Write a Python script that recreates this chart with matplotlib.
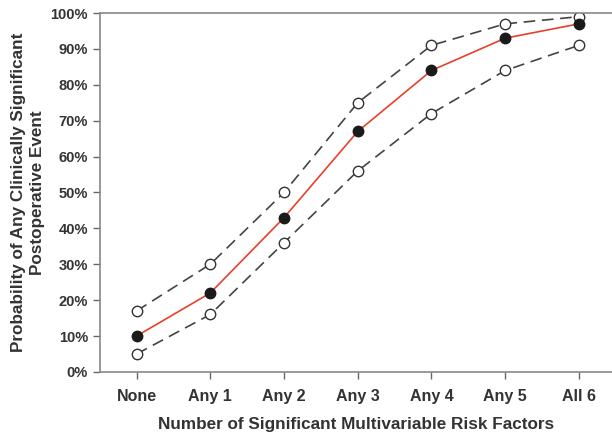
import numpy as np
import matplotlib.pyplot as plt

## Chart data
categories = ['None', 'Any 1', 'Any 2', 'Any 3', 'Any 4', 'Any 5', 'All 6']
estimate = [10, 22, 43, 67, 84, 93, 97]
upper_ci = [17, 30, 50, 75, 91, 97, 99]
lower_ci = [5, 16, 36, 56, 72, 84, 91]
y_ticks = [0, 10, 20, 30, 40, 50, 60, 70, 80, 90, 100]

plt.rcParams['font.family'] = ['Liberation Sans', 'DejaVu Sans']

fig = plt.figure(figsize=(6.12, 4.36), dpi=100)
ax = fig.add_axes([0.163, 0.147, 0.837, 0.823])

x = np.arange(len(categories))
text_col = '#333333'

## Confidence bounds (dashed, open circles)
for ci in (upper_ci, lower_ci):
    ax.plot(x, ci, color='#444444', linestyle=(0, (7, 4)), linewidth=1.2,
            marker='o', markersize=7.5, markerfacecolor='white',
            markeredgecolor='#333333', markeredgewidth=1.0, zorder=2)

## Point estimate (red line, filled markers)
ax.plot(x, estimate, color='#e8402a', linewidth=1.2, marker='o', markersize=7.5,
        markerfacecolor='#1a1a1a', markeredgecolor='#1a1a1a', zorder=3)

ax.set_xlim(-0.5, 6.45)
ax.set_ylim(0, 100)
ax.set_xticks(x)
ax.set_xticklabels(categories, fontsize=11.5, fontweight='bold', color=text_col)
ax.set_yticks(y_ticks)
ax.set_yticklabels([f'{v}%' for v in y_ticks], fontsize=10.5, fontweight='bold', color=text_col)
ax.tick_params(axis='both', direction='out', length=5, width=1, color='#666666')
ax.tick_params(axis='x', pad=7)

for side in ('left', 'bottom', 'top'):
    ax.spines[side].set_color('#888888')
    ax.spines[side].set_linewidth(1.2)
ax.spines['right'].set_visible(False)

ax.set_xlabel('Number of Significant Multivariable Risk Factors', fontsize=12.3,
              fontweight='bold', color=text_col, labelpad=10)
ax.set_ylabel('Probability of Any Clinically Significant\nPostoperative Event', fontsize=12.3,
              fontweight='bold', color=text_col, labelpad=4, linespacing=1.35)

plt.savefig('out.png', dpi=100)
